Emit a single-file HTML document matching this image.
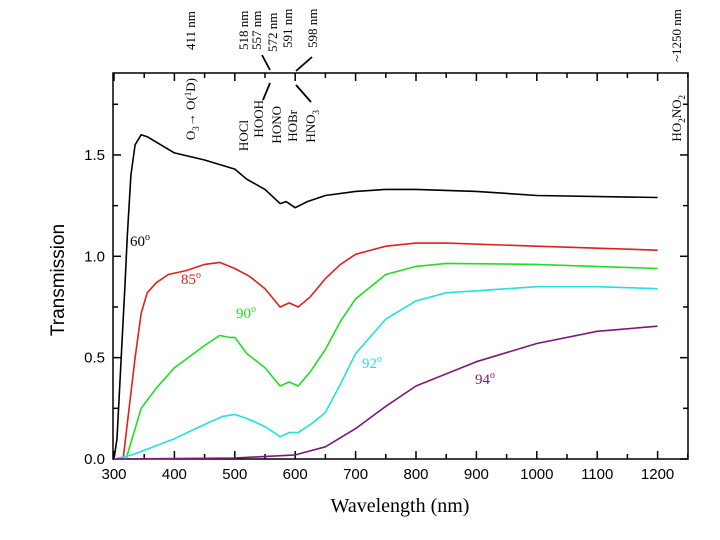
<!DOCTYPE html>
<html><head><meta charset="utf-8"><style>
html,body{margin:0;padding:0;background:#fff;}
svg{display:block;}
.tk{font-family:"Liberation Sans",sans-serif;font-size:15px;}
.sr{font-family:"Liberation Serif",serif;}
</style></head><body>
<svg id="chart" width="720" height="540" viewBox="0 0 720 540">
<g id="axes"></g>
<g id="series"></g>
<g id="ann"></g>
</svg>
<script>
const xTicks=[300,400,500,600,700,800,900,1000,1100,1200];
const yTicks=[0,0.5,1.0,1.5];
const yTickLabels=["0.0","0.5","1.0","1.5"];
const wl60=[300,305,312,318,322,328,335,345,355,400,450,500,520,550,575,585,600,620,650,700,750,800,900,1000,1200];
const t60=[0,0.1,0.5,0.85,1.1,1.4,1.55,1.6,1.59,1.51,1.475,1.43,1.38,1.33,1.26,1.27,1.24,1.27,1.30,1.32,1.33,1.33,1.32,1.30,1.29];
const wl85=[300,315,325,335,345,355,370,390,420,450,475,500,525,550,575,590,605,625,650,675,700,750,800,850,1000,1100,1200];
const t85=[0,0,0.25,0.5,0.72,0.82,0.87,0.91,0.93,0.96,0.97,0.94,0.9,0.84,0.75,0.77,0.75,0.8,0.89,0.96,1.01,1.05,1.065,1.065,1.05,1.04,1.03];
const wl90=[300,320,330,345,370,400,450,475,490,500,520,550,575,590,605,625,650,675,700,750,800,850,1000,1200];
const t90=[0,0,0.1,0.25,0.35,0.45,0.56,0.61,0.6,0.6,0.52,0.45,0.36,0.38,0.36,0.43,0.54,0.68,0.79,0.91,0.95,0.965,0.96,0.94];
const wl92=[300,330,400,450,480,500,520,550,575,590,605,630,650,675,700,750,800,850,900,1000,1100,1200];
const t92=[0,0.02,0.1,0.17,0.21,0.22,0.2,0.16,0.11,0.13,0.13,0.18,0.23,0.37,0.52,0.69,0.78,0.82,0.83,0.85,0.85,0.84];
const wl94=[300,500,600,650,700,750,800,850,900,1000,1100,1200];
const t94=[0,0.005,0.02,0.06,0.15,0.26,0.36,0.42,0.48,0.57,0.63,0.655];

const X0=114,PX=0.604,Y0=459,PY=202.7;
const xs=w=>X0+(w-300)*PX, ys=t=>Y0-t*PY;
const L=113,R=688,T=73,B=459;
const NS="http://www.w3.org/2000/svg";
function mk(tag,attrs,parent){const e=document.createElementNS(NS,tag);for(const k in attrs)e.setAttribute(k,attrs[k]);parent.appendChild(e);return e;}
const ax=document.getElementById('axes');
const frame=mk('rect',{x:L,y:T,width:R-L,height:B-T,fill:'none',stroke:'#000','stroke-width':1.5},ax);


for(let w=300;w<=1250;w+=50){
  const len=(w%100===0)?8:5;
  const t1=mk('line',{x1:xs(w),x2:xs(w),y1:B,y2:B-len,stroke:'#000','stroke-width':1.5},ax);
  
  
  const t2=mk('line',{x1:xs(w),x2:xs(w),y1:T,y2:T+len,stroke:'#000','stroke-width':1.5},ax);
  
  
}
xTicks.forEach(w=>{
  const t=mk('text',{x:xs(w),y:B+20,'text-anchor':'middle',class:'tk'},ax);
  t.textContent=w;
  
  
});
for(let v=0;v<=1.76;v+=0.25){
  const len=(Math.round(v*100)%50===0)?8:5;
  const a=mk('line',{x1:L,x2:L+len,y1:ys(v),y2:ys(v),stroke:'#000','stroke-width':1.5},ax);
  
  
  const b=mk('line',{x1:R,x2:R-len,y1:ys(v),y2:ys(v),stroke:'#000','stroke-width':1.5},ax);
  
  
}
yTicks.forEach((v,i)=>{
  const t=mk('text',{x:L-8,y:ys(v)+5,'text-anchor':'end',class:'tk'},ax);
  t.textContent=yTickLabels[i];
  
  
});
const yt=mk('text',{x:64,y:280,'text-anchor':'middle',transform:'rotate(-90 64 280)',style:'font-family:"Liberation Sans",sans-serif;font-size:19px'},ax);
yt.textContent='Transmission';


const xt=mk('text',{x:400,y:512,'text-anchor':'middle',class:'sr',style:'font-size:20px'},ax);
xt.textContent='Wavelength (nm)';



const sg=document.getElementById('series');
const S=[[wl60,t60,'#000','60','curve-60deg',[130,246]],[wl85,t85,'#e0201c','85','curve-85deg',[181,284]],[wl90,t90,'#22dd22','90','curve-90deg',[236,318]],[wl92,t92,'#22e0e0','92','curve-92deg',[362,368]],[wl94,t94,'#7a1a7a','94','curve-94deg',[475,384]]];
S.forEach(s=>{
  const d=s[0].map((w,i)=>(i?'L':'M')+xs(w).toFixed(1)+','+ys(s[1][i]).toFixed(1)).join(' ');
  const p=mk('path',{d:d,fill:'none',stroke:s[2],'stroke-width':1.6,'stroke-linejoin':'round'},sg);
  
  
  const t=mk('text',{x:s[5][0],y:s[5][1],fill:s[2],class:'sr',style:'font-size:15px'},sg);
  t.innerHTML=s[3]+'<tspan dy="-6" style="font-size:10px">o</tspan>';
  
  
});

const an=document.getElementById('ann');
function rt(txt,x,y,anchor,name){
  const t=mk('text',{x:x,y:y,'text-anchor':anchor,transform:`rotate(-90 ${x} ${y})`,class:'sr',style:'font-size:13px'},an);
  t.innerHTML=txt;
  
  
}
rt('411 nm',195,50,'start','label-411nm');
rt('518 nm',248,50,'start','label-518nm');
rt('557 nm',261,50,'start','label-557nm');
rt('572 nm',277,52,'start','label-572nm');
rt('591 nm',292,48,'start','label-591nm');
rt('598 nm',317,48,'start','label-598nm');
rt('~1250 nm',681,62,'start','label-1250nm');
rt('O<tspan dy="4" style="font-size:9px">3</tspan><tspan dy="-4">→ O(</tspan><tspan dy="-4" style="font-size:9px">1</tspan><tspan dy="4">D)</tspan>',195,78,'end','label-o3');
rt('HOCl',248,120,'end','label-hocl');
rt('HOOH',263,100,'end','label-hooh');
rt('HONO',281,106,'end','label-hono');
rt('HOBr',297,110,'end','label-hobr');
rt('HNO<tspan dy="4" style="font-size:9px">3</tspan>',315,110,'end','label-hno3');
rt('HO<tspan dy="4" style="font-size:9px">2</tspan><tspan dy="-4">NO</tspan><tspan dy="4" style="font-size:9px">2</tspan>',681,95,'end','label-ho2no2');
[[262,55,270,70],[270,83,263,100],[312,57,296,71],[296,85,311,102]].forEach(l=>{
  const e=mk('line',{x1:l[0],y1:l[1],x2:l[2],y2:l[3],stroke:'#000','stroke-width':1.8},an);
  
  
});
</script>
</body></html>
